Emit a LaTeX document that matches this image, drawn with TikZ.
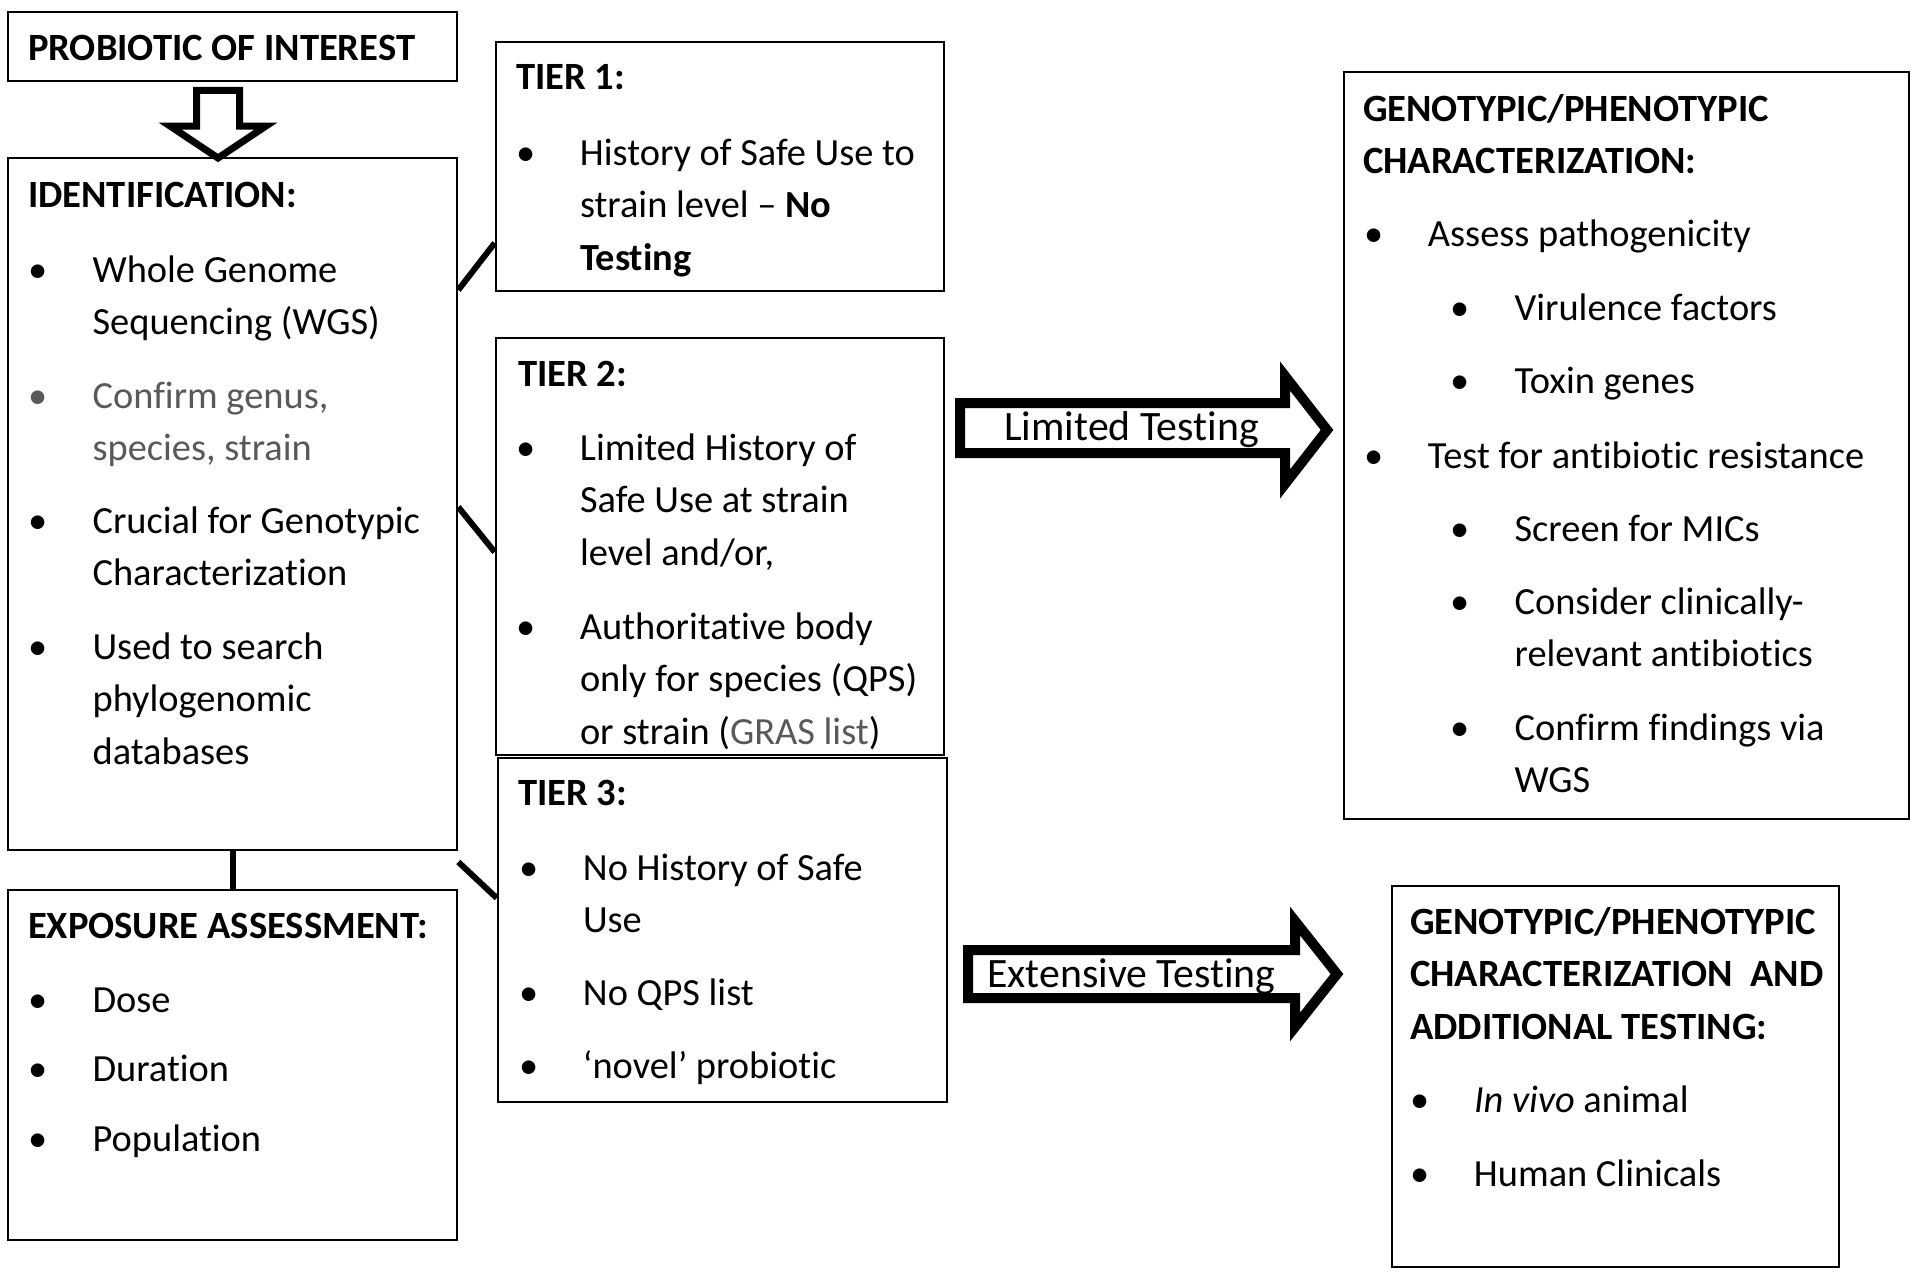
\documentclass[tikz,border=0pt]{standalone}
\usepackage{fontspec}
\setmainfont{Carlito}[Ligatures={NoCommon}]
\usetikzlibrary{fit}
\definecolor{greytext}{RGB}{89,89,89}
\newcommand{\mybul}[1]{\makebox[#1][l]{\textbullet}}
\newcommand{\mylines}[1]{\begin{tabular}[t]{@{}l@{}}#1\end{tabular}}
\tikzset{
  boxnode/.style={draw, line width=1.3pt, inner sep=0pt, fill=white},
  txt/.style={anchor=base west, inner sep=0pt, outer sep=0pt, font=\fontsize{19.2}{26.3}\selectfont},
  bold/.style={txt, font=\fontsize{19.3}{26.3}\selectfont\bfseries},
  arrowlabel/.style={anchor=base west, inner sep=0pt, font=\fontsize{20.9}{26}\selectfont},
  conn/.style={line width=3pt},
  blockarrow/.style={draw, line width=5pt, fill=white, line join=miter},
  downarrow/.style={draw, line width=3.5pt, fill=white, line join=miter}
}
\begin{document}
\begin{tikzpicture}[x=0.5pt, y=-0.5pt]
\useasboundingbox[fill=white] (0,0) rectangle (1920,1279);

% boxes
\node[boxnode, fit={(8,12) (457,81)}] (prob) {};
\node[boxnode, fit={(8,158) (457,850)}] (ident) {};
\node[boxnode, fit={(8,890) (457,1240)}] (expo) {};
\node[boxnode, fit={(496,42) (944,291)}] (tier1) {};
\node[boxnode, fit={(496,338) (944,755)}] (tier2) {};
\node[boxnode, fit={(498,758) (947,1102)}] (tier3) {};
\node[boxnode, fit={(1344,72) (1909,819)}] (gp1) {};
\node[boxnode, fit={(1392,886) (1839,1267)}] (gp2) {};

% down arrow from probiotic to identification
\draw[downarrow] (196.5,90.5) -- (239.5,90.5) -- (239.5,126) -- (266,126) -- (218,158) -- (170,126) -- (196.5,126) -- cycle;

% connectors
\draw[conn] (ident.south) -- (expo.north);
\draw[conn] (ident.east |- 0,290) -- (tier1.west |- 0,243);
\draw[conn] (ident.east |- 0,507) -- (tier2.west |- 0,552);
\draw[conn] (ident.east |- 0,862) -- (tier3.west |- 0,898);

% block arrows
\draw[blockarrow] (960,403) -- (1285,403) -- (1285,376) -- (1327,430) -- (1285,484) -- (1285,453) -- (960,453) -- cycle;
\node[arrowlabel] (limlab) at (1004,440) {Limited Testing};
\draw[blockarrow] (968,950) -- (1295,950) -- (1295,921) -- (1337,974) -- (1295,1027) -- (1295,998) -- (968,998) -- cycle;
\node[arrowlabel] (extlab) at (987,987) {Extensive Testing};

% probiotic
\node[bold] (probtxt) at (28,61) {PROBIOTIC OF INTEREST};

% identification
\node[bold] (identh) at (28,207) {IDENTIFICATION:};
\node[txt] (id1) at (28,282) {\mybul{32.3pt}\mylines{Whole Genome\\Sequencing (WGS)}};
\node[txt, text=greytext] (id2) at (28,408) {\mybul{32.3pt}\mylines{Confirm genus,\\species, strain}};
\node[txt] (id3) at (28,533) {\mybul{32.3pt}\mylines{Crucial for Genotypic\\Characterization}};
\node[txt] (id4) at (28,659) {\mybul{32.3pt}\mylines{Used to search\\phylogenomic\\databases}};

% exposure
\node[bold] (expoh) at (28,938) {EXPOSURE ASSESSMENT:};
\node[txt] (ex1) at (28,1012) {\mybul{32.3pt}Dose};
\node[txt] (ex2) at (28,1081) {\mybul{32.3pt}Duration};
\node[txt] (ex3) at (28,1151) {\mybul{32.3pt}Population};

% tier 1
\node[bold] (t1h) at (516,90) {TIER 1:};
\node[txt] (t1a) at (516,165) {\mybul{32pt}\mylines{History of Safe Use to\\strain level – \textbf{No}\\\textbf{Testing}}};

% tier 2
\node[bold] (t2h) at (518,386) {TIER 2:};
\node[txt] (t2a) at (516,460) {\mybul{32pt}\mylines{Limited History of\\Safe Use at strain\\level and/or,}};
\node[txt] (t2b) at (516,639) {\mybul{32pt}\mylines{Authoritative body\\only for species (QPS)\\or strain (\textcolor{greytext}{GRAS list})}};

% tier 3
\node[bold] (t3h) at (518,805) {TIER 3:};
\node[txt] (t3a) at (519,880) {\mybul{32pt}\mylines{No History of Safe\\Use}};
\node[txt] (t3b) at (519,1005) {\mybul{32pt}No QPS list};
\node[txt] (t3c) at (519,1078) {\mybul{32pt}‘novel’ probiotic};

% genotypic / phenotypic 1
\node[bold] (g1h) at (1363,121) {\mylines{GENOTYPIC/PHENOTYPIC\\CHARACTERIZATION:}};
\node[txt] (g1a) at (1364,246) {\mybul{32pt}Assess pathogenicity};
\node[txt] (g1b) at (1450,320) {\mybul{32.3pt}Virulence factors};
\node[txt] (g1c) at (1450,393) {\mybul{32.3pt}Toxin genes};
\node[txt] (g1d) at (1364,468) {\mybul{32pt}Test for antibiotic resistance};
\node[txt] (g1e) at (1450,541) {\mybul{32.3pt}Screen for MICs};
\node[txt] (g1f) at (1450,614) {\mybul{32.3pt}\mylines{Consider clinically-\\relevant antibiotics}};
\node[txt] (g1g) at (1450,740) {\mybul{32.3pt}\mylines{Confirm findings via\\WGS}};

% genotypic / phenotypic 2
\node[bold] (g2h) at (1410,934) {\mylines{GENOTYPIC/PHENOTYPIC\\CHARACTERIZATION\hspace{0.45em}AND\\ADDITIONAL TESTING:}};
\node[txt] (g2a) at (1410,1112) {\mybul{32pt}\textit{In vivo} animal};
\node[txt] (g2b) at (1410,1186) {\mybul{32pt}Human Clinicals};
\end{tikzpicture}
\end{document}
